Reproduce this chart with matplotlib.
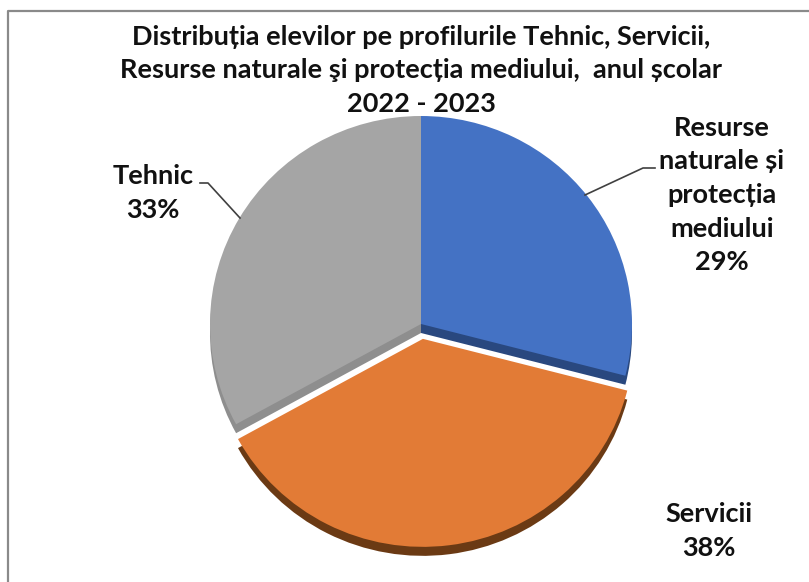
import matplotlib
matplotlib.use("Agg")
import matplotlib.pyplot as plt
from matplotlib.transforms import Affine2D
from matplotlib.lines import Line2D

plt.rcParams['font.family'] = ['Lato', 'DejaVu Sans']

# ---------------- data ----------------
title_lines = ["Distribuția elevilor pe profilurile Tehnic, Servicii,",
               "Resurse naturale şi protecția mediului,  anul școlar",
               "2022 - 2023"]
categories = ["Resurse\nnaturale și\nprotecția\nmediului", "Servicii", "Tehnic"]
values = [29, 38, 33]
pct_labels = ["29%", "38%", "33%"]
explode_frac = [0.0, 0.072, 0.0]
top_colors = ["#4472C4", "#E27B36", "#A5A5A5"]
side_colors = ["#29487F", "#6B3A14", "#8E8E8E"]

W, H = 809, 582
fig = plt.figure(figsize=(W / 100, H / 100), dpi=100)
ax = fig.add_axes([0, 0, 1, 1])


def Y(py):
    return H - py


cx, cy = 421, Y(324)
rx, ry = 211, 208
depth = 9
explode = [e * rx for e in explode_frac]


def squash_about(x0, y0):
    return Affine2D().translate(-x0, -y0).scale(1, ry / rx).translate(x0, y0)


# side (depth) layer
side_w, _ = ax.pie(values, radius=rx, center=(cx, cy - depth), startangle=90,
                   counterclock=False, explode=explode, colors=side_colors,
                   wedgeprops=dict(linewidth=0))
for w in side_w:
    w.set_transform(squash_about(cx, cy - depth) + ax.transData)

# top layer
top_w, _ = ax.pie(values, radius=rx, center=(cx, cy), startangle=90,
                  counterclock=False, explode=explode, colors=top_colors,
                  wedgeprops=dict(linewidth=0))
for w in top_w:
    w.set_transform(squash_about(cx, cy) + ax.transData)

ax.set_aspect('auto')
ax.set_xlim(0, W)
ax.set_ylim(0, H)
ax.axis('off')

# title
fs_title = 19.5
for i, line in enumerate(title_lines):
    ax.text(421, Y(37 + 33.5 * i), line, ha='center', va='center',
            fontsize=fs_title, fontweight='bold', color='#111111')

# data labels
fs_lab = 19.5
label_pos = [(722, 195), (709, 531), (153, 193)]
for cat, pct, (lx, ly) in zip(categories, pct_labels, label_pos):
    ax.text(lx, Y(ly), cat + "\n" + pct, ha='center', va='center',
            fontsize=fs_lab, fontweight='bold', color='#111111',
            linespacing=1.48)

# leader lines
ax.add_line(Line2D([585, 643, 655], [Y(195), Y(168), Y(168)],
                   color='#404040', lw=1.2))
ax.add_line(Line2D([200, 208, 240], [Y(183), Y(183), Y(218)],
                   color='#404040', lw=1.2))

# chart-area border (left and top)
ax.add_line(Line2D([8, 8, W], [0, Y(11), Y(11)], color='#8a8a8a', lw=1.6))

fig.savefig("out.png", dpi=100)
